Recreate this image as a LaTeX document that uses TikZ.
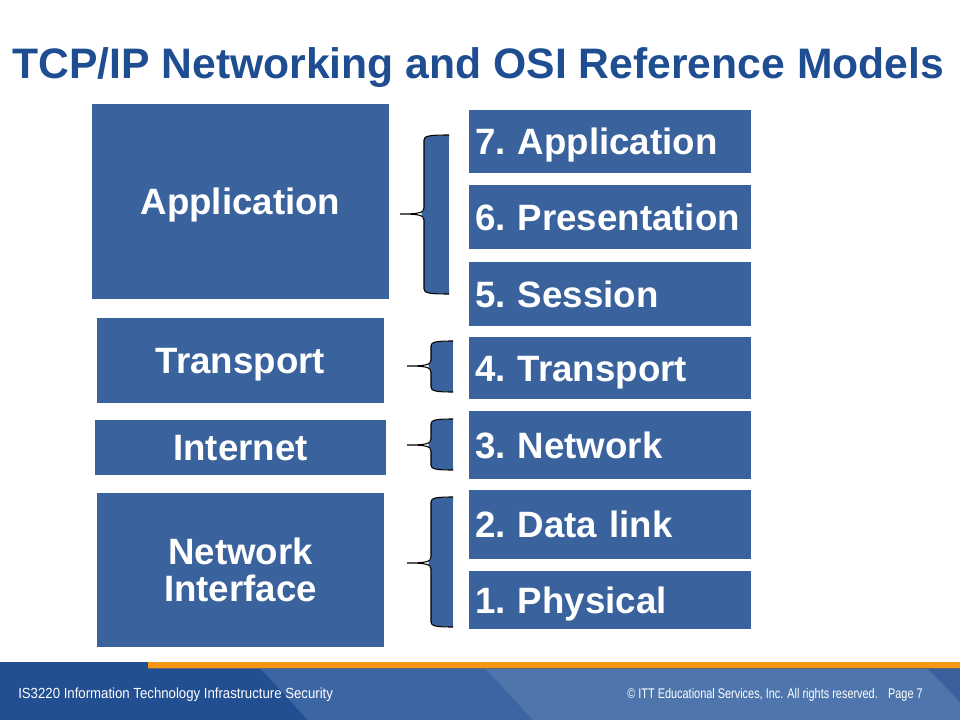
\documentclass[tikz,border=0pt]{standalone}
\usepackage{fontspec}
\setmainfont{Liberation Sans}
\newfontfamily\footleft[FakeStretch=0.9]{Liberation Sans}
\newfontfamily\footright[FakeStretch=0.78]{Liberation Sans}
\definecolor{boxblue}{RGB}{58,99,158}
\definecolor{titleblue}{RGB}{31,77,146}
\definecolor{footA}{RGB}{34,78,146}
\definecolor{footB}{RGB}{60,102,163}
\definecolor{footC}{RGB}{78,118,173}
\definecolor{footD}{RGB}{58,96,158}
\definecolor{footorange}{RGB}{245,150,20}
\newcommand{\osifont}{\frenchspacing\bfseries\fontsize{27.5}{27.5}\selectfont}
\tikzset{
  bracebody/.style={fill=boxblue, draw=none, inner sep=0pt, outer sep=0pt},
  braceline/.style={draw=black, line width=0.8pt}
}
\begin{document}
\begin{tikzpicture}[x=0.75pt,y=-0.75pt,
  lbox/.style={fill=boxblue, draw=none, text=white, inner sep=0pt,
    font=\osifont, text height=19.7pt, text depth=0pt},
  rbox/.style={fill=boxblue, draw=none, text=white, inner xsep=4.5pt, inner ysep=0pt,
    minimum width=211.5pt, text width=202.5pt, align=left,
    font=\osifont, text height=19.7pt, text depth=0pt},
  foottext/.style={text=white, inner sep=0pt}]
\useasboundingbox (0,0) rectangle (960,720);
\fill[white] (0,0) rectangle (960,720);
% footer band
\fill[footA] (0,662) rectangle (960,720);
\fill[footB] (260,668) -- (960,668) -- (960,720) -- (308,720) -- cycle;
\fill[footC] (485,668) -- (960,668) -- (960,720) -- (533,720) -- cycle;
\fill[footD] (927,668) -- (960,668) -- (960,702) -- cycle;
\fill[footorange] (148,662) rectangle (960,668);
\draw[black!60, line width=0.6pt] (148,668.5) -- (960,668.5);
% brace bodies (drawn first)
\node[bracebody, minimum width=18.75pt, minimum height=113.25pt] (b1) at (436.5,214.5) {};
\node[bracebody, minimum width=16.5pt, minimum height=32.25pt] (b2) at (442,366.5) {};
\node[bracebody, minimum width=16.5pt, minimum height=32.25pt] (b3) at (442,444.5) {};
\node[bracebody, minimum width=16.5pt, minimum height=91.5pt] (b4) at (442,562) {};
\foreach \xr/\xl/\xt/\yt/\ym/\yb in {449/424/400/135/214/294, 453/431/407/341/366/392,
    453/431/407/419/445/470, 453/431/407/497/563/627} {
  \path[fill=boxblue] (\xr,\yt) -- (\xl+6,\yt+0.8) -- (\xl+2,\yt+2) -- (\xl,\yt+4.5) -- (\xr,\yt+4.5) -- cycle;
  \path[fill=boxblue] (\xr,\yb) -- (\xl+6,\yb-0.8) -- (\xl+2,\yb-2) -- (\xl,\yb-4.5) -- (\xr,\yb-4.5) -- cycle;
  \path[fill=boxblue] (\xl+1,\ym-5) -- (\xl-2.5,\ym-1) -- (\xl-2.5,\ym+1) -- (\xl+1,\ym+5) -- cycle;
  \draw[braceline] (\xr,\yt) .. controls (\xl+5,\yt) and (\xl,\yt+1) .. (\xl,\yt+5)
    -- (\xl,\ym-6) .. controls (\xl,\ym-1) and (\xl-6,\ym) .. (\xt,\ym)
    .. controls (\xl-6,\ym) and (\xl,\ym+1) .. (\xl,\ym+6)
    -- (\xl,\yb-5) .. controls (\xl,\yb-1) and (\xl+5,\yb) .. (\xr,\yb);
}
\node[foottext, anchor=base west, font=\footleft\fontsize{11}{13}\selectfont] (course) at (18,698)
  {IS3220 Information Technology Infrastructure Security};
\node[foottext, anchor=base west, font=\footright\fontsize{10.5}{12}\selectfont] (copy) at (627,698)
  {© ITT Educational Services, Inc. All rights reserved.};
\node[foottext, anchor=base east, font=\footright\fontsize{10.5}{12}\selectfont] (page) at (923,698)
  {Page 7};
% title
\node[anchor=base west, inner sep=0pt, text=titleblue, font=\bfseries\fontsize{32}{38}\selectfont]
  (title) at (12,79) {TCP/IP Networking and OSI Reference Models};
% TCP/IP layers
\node[lbox, minimum width=222.75pt, minimum height=146.25pt] (app) at (240.5,201.5) {Application};
\node[lbox, minimum width=215.25pt, minimum height=63.75pt] (trans) at (240.5,360.5) {Transport};
\node[lbox, minimum width=218.25pt, minimum height=41.25pt] (inet) at (240.5,447.5) {Internet};
\node[fill=boxblue, text=white, inner sep=0pt, align=center, font=\osifont,
  minimum width=215.25pt, minimum height=115.5pt] (netif) at (240.5,570) {Network\\Interface};
% OSI layers
\node[rbox, minimum height=47.25pt] (o7) at (610,141.5) {7. Application};
\node[rbox, minimum height=48pt] (o6) at (610,217) {6. Presentation};
\node[rbox, minimum height=48pt] (o5) at (610,294) {5. Session};
\node[rbox, minimum height=46.5pt] (o4) at (610,368) {4. Transport};
\node[rbox, minimum height=51pt] (o3) at (610,445) {3. Network};
\node[rbox, minimum height=51.75pt] (o2) at (610,524.5) {2. Data link};
\node[rbox, minimum height=43.5pt] (o1) at (610,600) {1. Physical};
\end{tikzpicture}
\end{document}
